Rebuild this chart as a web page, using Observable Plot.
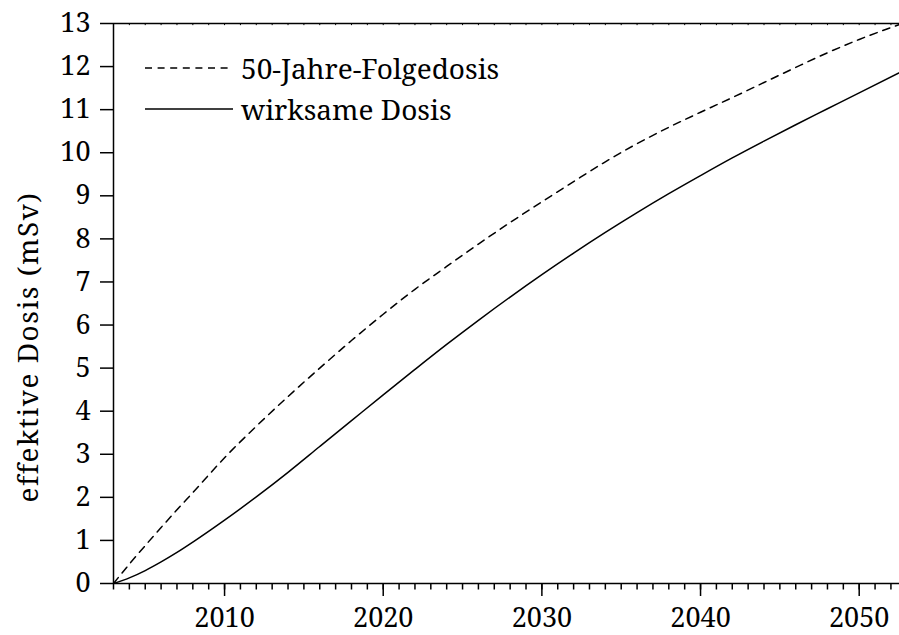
<!DOCTYPE html>
<html><head><meta charset="utf-8">
<script src="https://cdn.jsdelivr.net/npm/d3@7"></script>
<script src="https://cdn.jsdelivr.net/npm/@observablehq/plot@0.6"></script>
<style>
body{margin:0;background:#fff;}
#wrap{position:relative;width:899px;height:635px;color:#000;font-family:'Noto Serif','Liberation Serif',serif;}
.leg{position:absolute;left:145px;height:30px;display:flex;align-items:center;font-family:'Noto Serif','Liberation Serif',serif;font-size:28px;white-space:nowrap;}
.leg svg{display:block;margin-right:8px;}
#ylab{position:absolute;left:27px;top:347px;font-family:'Noto Serif','Liberation Serif',serif;font-size:28px;letter-spacing:1.5px;white-space:nowrap;transform:translate(-50%,-50%) rotate(-90deg);}
</style></head><body><div id="wrap"></div>
<script>
const seriesNames = ["50-Jahre-Folgedosis", "wirksame Dosis"];
const years = [2003, 2004, 2005, 2006, 2007, 2008, 2010, 2012, 2014, 2016, 2018, 2020, 2022, 2024, 2026, 2028, 2030, 2032, 2034, 2036, 2038, 2040, 2042, 2044, 2046, 2048, 2050, 2052.5];
const folgedosis = [0, 0.45, 0.88, 1.30, 1.71, 2.11, 2.92, 3.65, 4.34, 5.00, 5.64, 6.25, 6.83, 7.36, 7.88, 8.38, 8.86, 9.33, 9.79, 10.21, 10.59, 10.94, 11.28, 11.63, 11.98, 12.32, 12.63, 12.97];
const wirksameDosis = [0, 0.13, 0.30, 0.50, 0.72, 0.96, 1.47, 2.01, 2.58, 3.18, 3.78, 4.38, 4.97, 5.55, 6.11, 6.65, 7.17, 7.67, 8.15, 8.61, 9.05, 9.47, 9.88, 10.27, 10.65, 11.02, 11.39, 11.85];
const yTicks = [0, 1, 2, 3, 4, 5, 6, 7, 8, 9, 10, 11, 12, 13];
const xMajorTicks = [2010, 2020, 2030, 2040, 2050];
const xMinorTicks = d3.range(2003, 2053);
const yLabel = "effektive Dosis (mSv)";

const dataF = years.map((y, i) => ({year: y, v: folgedosis[i]}));
const dataW = years.map((y, i) => ({year: y, v: wirksameDosis[i]}));
const serif = "'Noto Serif', 'Liberation Serif', serif";

const plot = Plot.plot({
  width: 899, height: 635,
  marginLeft: 113, marginRight: 0, marginTop: 23, marginBottom: 52,
  x: {domain: [2003, 2052.54]},
  y: {domain: [0, 13]},
  style: {fontFamily: serif},
  marks: [
    Plot.axisY({ticks: yTicks, tickSize: 13, tickPadding: 10, label: null, strokeWidth: 1.5, fontFamily: serif, fontSize: 27, tickFormat: d => String(d)}),
    Plot.axisX({ticks: xMinorTicks, tickSize: 6.5, label: null, strokeWidth: 1.5, tickFormat: () => ""}),
    Plot.axisX({ticks: xMajorTicks, tickSize: 13, tickPadding: 11, label: null, strokeWidth: 1.5, fontFamily: serif, fontSize: 27, tickFormat: d => String(d)}),
    Plot.ruleX(xMinorTicks, {y1: 13, y2: 12.95, strokeWidth: 1}),
    Plot.ruleY([0, 13], {strokeWidth: 1.5}),
    Plot.ruleX([2003], {strokeWidth: 1.5}),
    Plot.line(dataF, {x: "year", y: "v", curve: "monotone-x", stroke: "#000", strokeWidth: 1.5, strokeDasharray: "7.5,6"}),
    Plot.line(dataW, {x: "year", y: "v", curve: "monotone-x", stroke: "#000", strokeWidth: 1.5})
  ]
});
const wrap = document.getElementById("wrap");
plot.style.display = "block";
wrap.appendChild(plot);

function legendRow(name, dash, top) {
  const div = document.createElement("div");
  div.className = "leg";
  div.style.top = (top - 15) + "px";
  div.innerHTML = `<svg width="88" height="4"><line x1="0" x2="88" y1="2" y2="2" stroke="#000" stroke-width="1.5" ${dash ? `stroke-dasharray="${dash}"` : ""}/></svg><span>${name}</span>`;
  wrap.appendChild(div);
}
legendRow(seriesNames[0], "7,5.6", 68);
legendRow(seriesNames[1], null, 109);

const yl = document.createElement("div");
yl.id = "ylab";
yl.textContent = yLabel;
wrap.appendChild(yl);
</script>
</body></html>
